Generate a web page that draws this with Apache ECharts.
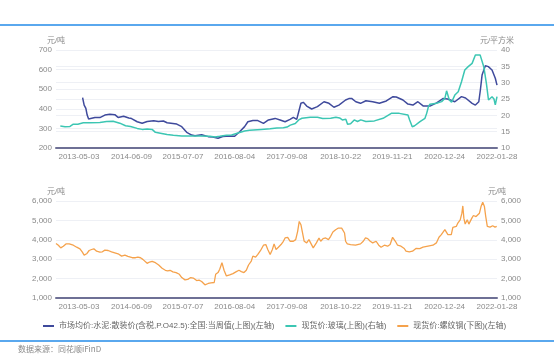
<!DOCTYPE html>
<html><head><meta charset="utf-8">
<script src="https://cdn.jsdelivr.net/npm/echarts@6/dist/echarts.min.js"></script>
<style>html,body{margin:0;padding:0;background:#fff}#c{width:554px;height:355px}</style>
</head><body><div id="c"></div>
<script>
const xTickLabels = ['2013-05-03','2014-06-09','2015-07-07','2016-08-04','2017-09-08','2018-10-22','2019-11-21','2020-12-24','2022-01-28'];
const xMin = '2012-11-09';
const xMax = '2022-01-28';
const seriesNames = ['市场均价:水泥:散装价(含税,P.O42.5):全国:当周值(上图)(左轴)','现货价:玻璃(上图)(右轴)','现货价:螺纹钢(下图)(左轴)'];

const cement = [['2013-05-31',457],['2013-06-12',419],['2013-06-25',402],['2013-07-05',368],['2013-07-16',348],['2013-09-02',356],['2013-10-10',355],['2013-11-17',368],['2013-12-25',372],['2014-02-01',370],['2014-02-26',356],['2014-04-09',362],['2014-05-19',353],['2014-06-09',350],['2014-07-22',334],['2014-08-29',326],['2014-10-06',335],['2014-11-25',339],['2014-12-31',335],['2015-02-07',338],['2015-02-22',342],['2015-03-07',329],['2015-05-20',322],['2015-06-27',309],['2015-08-04',280],['2015-09-11',266],['2015-10-06',263],['2015-11-26',268],['2016-01-15',258],['2016-02-20',256],['2016-03-30',250],['2016-05-05',259],['2016-06-27',261],['2016-08-04',260],['2016-09-11',283],['2016-10-19',309],['2016-11-13',334],['2016-12-21',340],['2017-01-28',340],['2017-03-12',326],['2017-04-19',343],['2017-06-09',351],['2017-07-17',343],['2017-08-24',334],['2017-10-01',346],['2017-10-26',356],['2017-11-21',346],['2017-12-04',345],['2017-12-23',428],['2018-01-10',433],['2018-02-05',414],['2018-03-15',399],['2018-04-28',411],['2018-06-17',436],['2018-07-25',428],['2018-09-01',408],['2018-10-09',419],['2018-11-29',445],['2018-12-24',452],['2019-01-14',453],['2019-02-15',436],['2019-03-23',428],['2019-05-03',441],['2019-06-24',436],['2019-08-14',428],['2019-10-06',440],['2019-11-26',462],['2019-12-21',460],['2020-02-10',445],['2020-03-19',424],['2020-04-26',419],['2020-06-03',436],['2020-07-15',414],['2020-09-03',414],['2020-10-24',430],['2020-12-14',453],['2021-01-16',450],['2021-03-12',436],['2021-05-02',462],['2021-06-02',455],['2021-07-22',428],['2021-08-16',419],['2021-09-11',436],['2021-09-23',496],['2021-10-06',572],['2021-10-31',620],['2021-11-23',615],['2021-12-21',598],['2022-01-15',556],['2022-01-28',521]];

const glass = [['2012-12-12',16.7],['2012-12-21',17.3],['2013-01-17',16.5],['2013-02-24',16.6],['2013-03-21',17.3],['2013-04-25',17.3],['2013-06-05',17.7],['2013-07-26',17.7],['2013-10-10',17.8],['2013-11-30',18.1],['2014-01-19',18.2],['2014-03-11',17.6],['2014-04-24',16.8],['2014-06-01',16.6],['2014-07-22',16.0],['2014-08-29',15.7],['2014-10-06',15.8],['2014-11-13',15.7],['2014-12-08',14.8],['2015-01-15',14.5],['2015-03-07',14.1],['2015-04-24',13.9],['2015-06-27',13.7],['2015-08-29',13.7],['2015-11-13',13.7],['2016-01-28',13.6],['2016-03-06',13.4],['2016-04-12',13.6],['2016-06-02',13.9],['2016-07-12',14.0],['2016-08-29',14.6],['2016-10-19',15.2],['2016-11-26',15.4],['2017-02-23',15.7],['2017-05-02',15.9],['2017-06-22',16.1],['2017-08-11',16.2],['2017-09-08',16.4],['2017-10-03',17.0],['2017-11-10',17.5],['2017-12-06',18.6],['2017-12-31',19.1],['2018-03-04',19.4],['2018-04-28',19.4],['2018-06-07',19.0],['2018-08-07',19.1],['2018-09-16',19.4],['2018-10-14',19.2],['2018-11-04',18.6],['2018-12-01',18.8],['2018-12-14',17.3],['2019-01-06',17.4],['2019-02-03',18.6],['2019-02-28',18.1],['2019-03-25',18.6],['2019-05-03',18.1],['2019-07-07',18.3],['2019-09-11',19.1],['2019-11-13',20.6],['2020-01-13',20.6],['2020-03-19',20.1],['2020-04-01',18.6],['2020-04-21',16.5],['2020-05-09',16.8],['2020-06-19',18.1],['2020-07-27',19.1],['2020-08-09',20.6],['2020-08-22',22.6],['2020-09-03',23.4],['2020-10-24',23.7],['2020-12-01',24.2],['2020-12-26',25.2],['2021-01-08',27.5],['2021-01-29',24.7],['2021-02-15',24.0],['2021-03-12',26.2],['2021-04-07',27.2],['2021-05-02',30.3],['2021-05-27',33.9],['2021-06-22',34.9],['2021-07-22',35.9],['2021-08-16',38.5],['2021-09-21',38.5],['2021-10-02',38.0],['2021-10-19',34.9],['2021-11-08',29.8],['2021-11-24',24.7],['2021-12-06',25.0],['2021-12-21',25.7],['2022-01-05',25.0],['2022-01-15',23.2],['2022-01-28',25.7]];

const rebar = [['2012-11-09',3806],['2012-11-27',3721],['2012-12-15',3585],['2013-01-04',3670],['2013-01-24',3789],['2013-02-18',3789],['2013-03-03',3874],['2013-03-21',3721],['2013-04-16',3619],['2013-05-11',3534],['2013-05-28',3381],['2013-06-12',3211],['2013-07-01',3279],['2013-07-20',3449],['2013-08-08',3500],['2013-08-25',3534],['2013-09-15',3415],['2013-10-10',3364],['2013-10-29',3380],['2013-11-17',3466],['2013-12-12',3449],['2014-01-07',3381],['2014-02-01',3330],['2014-02-26',3279],['2014-03-25',3160],['2014-04-07',3140],['2014-04-19',3211],['2014-05-12',3143],['2014-06-14',3075],['2014-07-09',3075],['2014-07-27',3109],['2014-08-16',3075],['2014-09-03',2990],['2014-09-18',2905],['2014-10-06',2786],['2014-10-24',2854],['2014-11-13',2888],['2014-12-08',2820],['2015-01-02',2701],['2015-01-28',2531],['2015-02-22',2429],['2015-03-12',2395],['2015-03-30',2429],['2015-04-20',2344],['2015-05-15',2310],['2015-06-09',2224],['2015-06-27',2054],['2015-07-22',1935],['2015-08-12',1960],['2015-09-04',2054],['2015-09-23',2030],['2015-10-19',1900],['2015-11-06',1918],['2015-11-26',1850],['2015-12-21',1680],['2016-01-15',1748],['2016-02-05',1780],['2016-03-01',1799],['2016-03-12',2224],['2016-03-30',2310],['2016-04-12',2480],['2016-04-29',2820],['2016-05-15',2429],['2016-06-02',2139],['2016-06-27',2190],['2016-07-22',2258],['2016-08-17',2361],['2016-09-06',2429],['2016-09-24',2361],['2016-10-14',2310],['2016-11-01',2429],['2016-11-18',2701],['2016-12-09',2905],['2016-12-21',3160],['2017-01-11',3109],['2017-01-28',3245],['2017-02-18',3449],['2017-03-12',3721],['2017-03-30',3755],['2017-04-14',3500],['2017-05-02',3245],['2017-05-19',3500],['2017-06-01',3789],['2017-06-16',3500],['2017-07-04',3619],['2017-07-24',3755],['2017-08-11',3925],['2017-08-24',4095],['2017-09-13',4129],['2017-10-01',3925],['2017-10-26',3925],['2017-11-13',4010],['2017-11-28',4435],['2017-12-10',4946],['2017-12-23',4776],['2018-01-02',4435],['2018-01-17',3925],['2018-02-05',3840],['2018-02-22',4010],['2018-03-09',3925],['2018-03-27',3585],['2018-04-20',3840],['2018-05-10',4095],['2018-05-23',3925],['2018-06-10',4061],['2018-06-30',4095],['2018-07-21',4010],['2018-08-07',4180],['2018-08-24',4401],['2018-09-14',4520],['2018-10-05',4605],['2018-10-30',4605],['2018-11-11',4656],['2018-11-21',4350],['2018-11-29',3925],['2018-12-12',3789],['2019-01-06',3755],['2019-02-13',3721],['2019-03-23',3789],['2019-04-13',3925],['2019-04-30',4095],['2019-05-17',4061],['2019-06-05',3925],['2019-06-24',3840],['2019-07-20',3925],['2019-08-09',3721],['2019-08-27',3619],['2019-09-21',3721],['2019-10-16',3670],['2019-11-04',3755],['2019-11-23',4129],['2019-12-14',3925],['2019-12-31',3721],['2020-01-26',3670],['2020-02-20',3551],['2020-03-04',3415],['2020-03-29',3381],['2020-04-23',3415],['2020-05-19',3551],['2020-06-17',3550],['2020-07-12',3619],['2020-08-19',3670],['2020-09-26',3721],['2020-10-22',3840],['2020-11-11',4129],['2020-11-29',4265],['2020-12-14',4200],['2020-12-26',4520],['2021-01-06',4435],['2021-01-18',4265],['2021-02-13',4265],['2021-02-25',4639],['2021-03-23',4690],['2021-04-04',4861],['2021-04-22',5031],['2021-05-05',5371],['2021-05-12',5745],['2021-05-20',5116],['2021-05-30',4810],['2021-06-15',5031],['2021-06-27',4810],['2021-07-20',5116],['2021-08-01',5252],['2021-08-21',5200],['2021-09-03',5116],['2021-09-16',5371],['2021-09-28',5711],['2021-10-11',5932],['2021-10-24',5711],['2021-11-03',5200],['2021-11-15',4690],['2021-12-06',4656],['2021-12-26',4724],['2022-01-13',4656],['2022-01-26',4690]];

function toTs(s){const p=s.split('-').map(Number);return Date.UTC(p[0],p[1]-1,p[2]);}
function pad(n){return (n<10?'0':'')+n;}
function fmtDate(v){const d=new Date(v);return d.getUTCFullYear()+'-'+pad(d.getUTCMonth()+1)+'-'+pad(d.getUTCDate());}
function conv(arr){return arr.map(r=>[toTs(r[0]),r[1]]);}

const FONT = "'Liberation Sans','Noto Sans CJK SC',sans-serif";
const labelColor = '#8a8a8a';
const gridLineColor = '#eef0f5';
const axisLineColor = '#6e7095';

function xAxisCfg(gi){
  return {
    type:'value', gridIndex:gi, min:toTs(xMin), max:toTs(xMax), scale:true,
    axisLine:{show:true, onZero:false, lineStyle:{color:axisLineColor, width:2}},
    axisTick:{show:false},
    splitLine:{show:false},
    axisLabel:{customValues:xTickLabels.map(toTs), formatter:fmtDate, color:labelColor, fontSize:8, fontFamily:FONT, margin:5, hideOverlap:false, showMinLabel:true, showMaxLabel:true}
  };
}
function yAxisCfg(gi, pos, min, max, interval, name, fmt){
  const c = {
    type:'value', gridIndex:gi, position:pos, min:min, max:max, interval:interval,
    name:name, nameLocation:'end', nameGap:5,
    nameTextStyle:{color:labelColor, fontSize:8, fontFamily:FONT, align:'center'},
    axisLine:{show:false}, axisTick:{show:false},
    splitLine:{show:true, lineStyle:{color:gridLineColor, width:1}},
    axisLabel:{color:labelColor, fontSize:8, fontFamily:FONT, margin:4}
  };
  if (fmt) c.axisLabel.formatter = fmt;
  return c;
}
const thousands = v => Number(v).toLocaleString('en-US');

const chart = echarts.init(document.getElementById('c'), null, {renderer:'canvas'});
chart.setOption({
  animation:false,
  textStyle:{fontFamily:FONT},
  grid:[
    {left:56, right:57, top:50, height:98},
    {left:56, right:57, top:201, height:97}
  ],
  xAxis:[xAxisCfg(0), xAxisCfg(1)],
  yAxis:[
    yAxisCfg(0,'left',200,700,100,'元/吨'),
    yAxisCfg(0,'right',10,40,5,'元/平方米'),
    yAxisCfg(1,'left',1000,6000,1000,'元/吨',thousands),
    yAxisCfg(1,'right',1000,6000,1000,'元/吨',thousands)
  ],
  legend:{
    left:38, top:317, itemWidth:11, itemHeight:2, itemGap:11, icon:'rect',
    textStyle:{color:'#666', fontSize:8, fontFamily:FONT},
    data:seriesNames
  },
  graphic:[
    {type:'rect', left:0, top:24, shape:{width:554, height:2}, style:{fill:'#5aa8ee'}},
    {type:'rect', left:0, top:340, shape:{width:554, height:2}, style:{fill:'#5aa8ee'}},
    {type:'text', left:18, top:345, style:{text:'数据来源：同花顺iFinD', fill:'#8a8a8a', font:"8px 'Noto Sans CJK SC', sans-serif"}}
  ],
  series:[
    {name:seriesNames[0], type:'line', xAxisIndex:0, yAxisIndex:0, data:conv(cement), showSymbol:false, symbol:'none', lineStyle:{color:'#3f4a9c', width:1.5}, itemStyle:{color:'#3f4a9c'}},
    {name:seriesNames[1], type:'line', xAxisIndex:0, yAxisIndex:1, data:conv(glass), showSymbol:false, symbol:'none', lineStyle:{color:'#3cc6b3', width:1.5}, itemStyle:{color:'#3cc6b3'}},
    {name:seriesNames[2], type:'line', xAxisIndex:1, yAxisIndex:2, data:conv(rebar), showSymbol:false, symbol:'none', lineStyle:{color:'#f5a24c', width:1.3}, itemStyle:{color:'#f5a24c'}}
  ]
});
</script></body></html>
